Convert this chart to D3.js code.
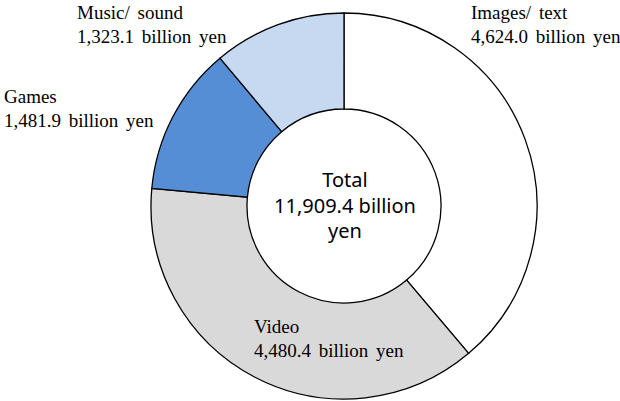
<!DOCTYPE html>
<style>
body { margin: 0; background-color: #FFFFFF; }
.lbl { font-family: "Liberation Serif", "Times New Roman", serif; font-size: 19px; fill: #000; word-spacing: 3px; }
.total { font-family: "Noto Sans", "Open Sans", sans-serif; font-size: 20px; fill: #000; }
</style>
<svg width="620" height="401"></svg>
<script src="https://d3js.org/d3.v7.min.js"></script>
<script>

var categories = ["Images/ text", "Video", "Games", "Music/ sound"];
var values = [4624.0, 4480.4, 1481.9, 1323.1];
var valueLabels = ["4,624.0", "4,480.4", "1,481.9", "1,323.1"];
var totalLabel = ["Total", "11,909.4 billion", "yen"];

var svg = d3.select("svg"),
    cx = 344, cy = 206,
    outerR = 193, innerR = 97;

var colour = d3.scaleOrdinal()
    .domain(categories)
    .range(["#FFFFFF", "#D9D9D9", "#558ED5", "#C6D9F1"]);

var pie = d3.pie().sort(null).value(function(d) { return d.value; });
var arc = d3.arc().innerRadius(innerR).outerRadius(outerR);

var data = categories.map(function(c, i) { return {key: c, value: values[i], text: valueLabels[i]}; });

var g = svg.append("g").attr("transform", "translate(" + cx + "," + cy + ")");

g.selectAll("path")
  .data(pie(data))
  .enter().append("path")
    .attr("d", arc)
    .attr("fill", function(d) { return colour(d.data.key); })
    .attr("stroke", "#000")
    .attr("stroke-width", 1.3);

// hand placed labels, like the original
var labelPos = [[471, 19], [254, 333], [4, 103], [77, 19]];

var lab = svg.append("g").selectAll("text")
  .data(data)
  .enter().append("text")
    .attr("class", "lbl")
    .attr("x", function(d, i) { return labelPos[i][0]; })
    .attr("y", function(d, i) { return labelPos[i][1]; });

lab.append("tspan").text(function(d) { return d.key; });
lab.append("tspan")
    .attr("x", function(d, i) { return labelPos[i][0]; })
    .attr("dy", 23.5)
    .text(function(d) { return d.text + " billion yen"; });

svg.append("g").selectAll("text")
  .data(totalLabel)
  .enter().append("text")
    .attr("class", "total")
    .attr("text-anchor", "middle")
    .attr("x", cx + 1)
    .attr("y", function(d, i) { return 187 + i * 25.5; })
    .text(function(d) { return d; });

</script>
